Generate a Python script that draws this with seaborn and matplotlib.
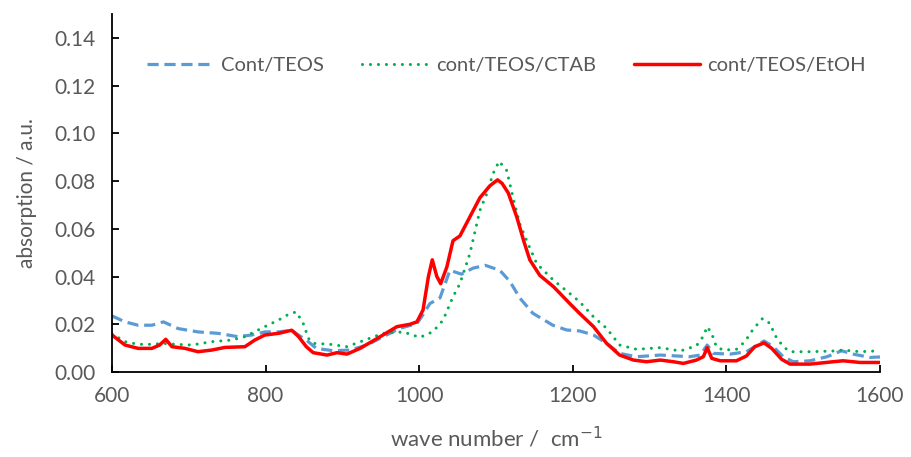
import matplotlib
matplotlib.use("Agg")
import matplotlib.pyplot as plt
import seaborn as sns
import pandas as pd
import numpy as np
from matplotlib.ticker import FormatStrFormatter

sns.set_theme(style="white")
plt.rcParams['font.family'] = ['Lato', 'DejaVu Sans']

blue_x = [600, 617, 634, 652, 667, 686, 712, 738, 764, 782, 799, 817, 834, 845, 853, 866, 888, 910, 932, 953,
          975, 997, 1005, 1014, 1027, 1040, 1055, 1070, 1086, 1105, 1118, 1131, 1148, 1174, 1192, 1209, 1227,
          1244, 1261, 1283, 1314, 1336, 1352, 1366, 1375, 1383, 1405, 1426, 1449, 1461, 1474, 1487, 1509, 1531,
          1550, 1565, 1587, 1600]
blue_y = [0.0235, 0.021, 0.0196, 0.0196, 0.021, 0.0182, 0.0168, 0.0162, 0.0148, 0.0155, 0.0168, 0.0168, 0.0175,
          0.015, 0.0134, 0.0099, 0.0089, 0.0092, 0.0113, 0.0148, 0.0183, 0.0203, 0.024, 0.0287, 0.031, 0.0426,
          0.041, 0.0435, 0.0447, 0.0426, 0.038, 0.031, 0.0246, 0.0196, 0.0176, 0.0172, 0.0155, 0.012, 0.0078,
          0.0064, 0.0071, 0.0067, 0.0064, 0.0071, 0.0113, 0.0078, 0.0075, 0.0085, 0.013, 0.0106, 0.0064, 0.0043,
          0.0047, 0.0064, 0.0089, 0.0075, 0.0061, 0.0063]

green_x = [600, 617, 634, 652, 667, 682, 704, 730, 756, 773, 799, 817, 830, 840, 849, 856, 862, 884, 906, 927,
           953, 979, 1001, 1018, 1031, 1044, 1053, 1066, 1079, 1088, 1096, 1104, 1114, 1123, 1131, 1140, 1153,
           1175, 1196, 1209, 1227, 1244, 1261, 1283, 1314, 1340, 1361, 1370, 1375, 1381, 1387, 1396, 1413, 1424,
           1435, 1447, 1457, 1463, 1474, 1483, 1509, 1539, 1552, 1574, 1600]
green_y = [0.016, 0.0127, 0.0116, 0.0116, 0.012, 0.0116, 0.0113, 0.0127, 0.0134, 0.0148, 0.019, 0.0218, 0.0242,
           0.0252, 0.0203, 0.014, 0.012, 0.0116, 0.0106, 0.0131, 0.0162, 0.0168, 0.0145, 0.0169, 0.0217, 0.0315,
           0.037, 0.0496, 0.0677, 0.0747, 0.083, 0.0883, 0.0844, 0.072, 0.062, 0.055, 0.0454, 0.0384, 0.0329,
           0.0294, 0.0231, 0.0183, 0.0113, 0.0095, 0.0102, 0.0088, 0.011, 0.015, 0.019, 0.016, 0.0105, 0.0092,
           0.0095, 0.0127, 0.018, 0.0224, 0.0203, 0.0155, 0.0106, 0.0085, 0.0085, 0.0088, 0.0092, 0.0085, 0.0089]

red_x = [600, 617, 634, 652, 662, 670, 678, 695, 712, 730, 747, 773, 786, 799, 817, 834, 843, 853, 862, 880,
         893, 906, 923, 945, 971, 988, 997, 1005, 1012, 1017, 1023, 1028, 1036, 1044, 1053, 1066, 1079, 1092,
         1102, 1108, 1116, 1127, 1136, 1144, 1157, 1175, 1196, 1209, 1227, 1244, 1261, 1279, 1296, 1314, 1331,
         1344, 1361, 1370, 1375, 1381, 1392, 1413, 1426, 1437, 1449, 1459, 1472, 1483, 1509, 1539, 1552, 1574,
         1600]
red_y = [0.0155, 0.0113, 0.0099, 0.0099, 0.0113, 0.0137, 0.0106, 0.0099, 0.0085, 0.0092, 0.0103, 0.0106, 0.0134,
         0.0155, 0.0162, 0.0175, 0.0148, 0.0106, 0.0081, 0.0071, 0.0081, 0.0075, 0.0099, 0.014, 0.019, 0.020,
         0.021, 0.026, 0.040, 0.047, 0.040, 0.037, 0.044, 0.055, 0.057, 0.065, 0.073, 0.078, 0.0805, 0.079,
         0.075, 0.065, 0.055, 0.047, 0.0405, 0.0357, 0.0287, 0.0245, 0.019, 0.012, 0.0071, 0.005, 0.0043, 0.005,
         0.0043, 0.0036, 0.005, 0.0064, 0.0102, 0.0057, 0.0047, 0.0047, 0.0067, 0.0106, 0.0122, 0.0099, 0.0053,
         0.0033, 0.0033, 0.0043, 0.0047, 0.0040, 0.004]

series_names = ["Cont/TEOS", "cont/TEOS/CTAB", "cont/TEOS/EtOH"]
x_ticks = [600, 800, 1000, 1200, 1400, 1600]
y_ticks = [0.00, 0.02, 0.04, 0.06, 0.08, 0.10, 0.12, 0.14]

df_blue = pd.DataFrame({"x": blue_x, "y": blue_y})
df_green = pd.DataFrame({"x": green_x, "y": green_y})
df_red = pd.DataFrame({"x": red_x, "y": red_y})

fig = plt.figure(figsize=(9.12, 4.57), dpi=100)
ax = fig.add_axes([112/912, (457-372)/457, (880-112)/912, (372-14)/457])

sns.lineplot(data=df_blue, x="x", y="y", ax=ax, color="#5B9BD5", lw=2.3,
             label=series_names[0], sort=False)
sns.lineplot(data=df_green, x="x", y="y", ax=ax, color="#00B050", lw=2.2,
             label=series_names[1], sort=False)
sns.lineplot(data=df_red, x="x", y="y", ax=ax, color="#FF0000", lw=2.5,
             label=series_names[2], sort=False)
lines = ax.get_lines()
lines[0].set_dashes([3.5, 1.8])
lines[1].set_dashes([0.01, 2.6])
lines[1].set_dash_capstyle("round")

ax.set_xlim(600, 1600)
ax.set_ylim(0, 0.15)
ax.set_xticks(x_ticks)
ax.set_yticks(y_ticks)
ax.yaxis.set_major_formatter(FormatStrFormatter("%.2f"))

txt = "#595959"
ax.tick_params(axis="both", direction="in", length=5, width=1.3, colors="black",
               labelcolor=txt, labelsize=15, left=True, bottom=True)
ax.tick_params(axis="y", pad=12)
ax.tick_params(axis="x", pad=10)
for s in ["top", "right"]:
    ax.spines[s].set_visible(False)
for s in ["left", "bottom"]:
    ax.spines[s].set_color("black")
    ax.spines[s].set_linewidth(1.3)

ax.set_xlabel("wave number /  cm$^{-1}$", fontsize=16, color=txt)
ax.set_ylabel("absorption / a.u.", fontsize=15, color=txt)
ax.xaxis.set_label_coords(0.5, (372 - 438) / 358)
ax.xaxis.label.set_va("center")
ax.yaxis.set_label_coords((27 - 112) / 768, (372 - 193) / 358)
ax.yaxis.label.set_va("center")

leg = ax.legend(loc="center", bbox_to_anchor=(0.514, 0.857), ncol=3, frameon=False,
                fontsize=14.5, handlelength=3.3, handletextpad=0.35, columnspacing=1.9)
for t in leg.get_texts():
    t.set_color(txt)

fig.savefig("out.png", dpi=100)
